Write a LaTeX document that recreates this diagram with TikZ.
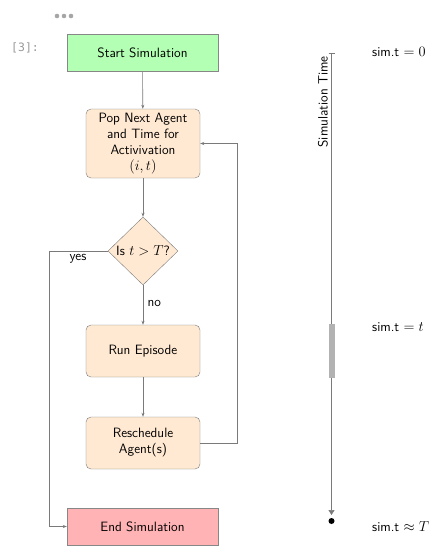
\documentclass[tikz,border=0pt]{standalone}
\usepackage{fontspec}
\newfontfamily\jmono{DejaVu Sans Mono}
\usetikzlibrary{shapes.geometric,arrows.meta}
\definecolor{lgreen}{HTML}{B3FFB3}
\definecolor{peach}{HTML}{FFE9D2}
\definecolor{lred}{HTML}{FFB3B5}
\definecolor{edge}{HTML}{7A7A7A}
\begin{document}
\begin{tikzpicture}[x=1pt,y=-1pt,
  every node/.style={font=\sffamily\fontsize{13.5}{16}\selectfont},
  termbox/.style={draw=edge!90, minimum width=151pt, minimum height=37pt, inner sep=2pt},
  procbox/.style={draw=edge, fill=peach, rounded corners=5pt, minimum width=114pt, minimum height=52pt, align=center, inner sep=2pt},
  decbox/.style={draw=edge, fill=peach, diamond, minimum width=70pt, minimum height=68pt, inner sep=0pt},
  conn/.style={draw=edge, line width=0.6pt, -{Stealth[length=4pt,width=3pt]}},
  line/.style={draw=edge, line width=0.6pt}]
\useasboundingbox (0,0) rectangle (442,557);
% notebook decorations
\foreach \xx in {57,64,71} \fill[black!35] (\xx,16) circle (2.3pt);
\node[font=\jmono\fontsize{11.5}{14}\selectfont, text=black!40, anchor=west, inner sep=0] (prompt) at (11,48) {[3]:};
% flowchart
\node[termbox, fill=lgreen] (start) at (142.5,53) {Start Simulation};
\node[procbox, minimum height=69pt] (pop) at (143,143.5) {Pop Next Agent\\and Time for\\Activivation\\$(i,t)$};
\node[decbox] (dec) at (143,251) {Is $t>T$?};
\node[procbox] (run) at (143,351) {Run Episode};
\node[procbox] (resch) at (143,443) {Reschedule\\Agent(s)};
\node[termbox, fill=lred] (end) at (142.5,526.5) {End Simulation};
\coordinate (yl) at (49,251);
\coordinate (rr) at (237,443);
\draw[conn] (start) -- (pop);
\draw[conn] (pop) -- (dec);
\draw[conn] (dec) -- node[right, pos=0.45, xshift=1pt] (nolab) {no} (run);
\draw[conn] (run) -- (resch);
\draw[conn] (dec.west) -- (yl) |- (end.west);
\node (yeslab) at (78,259) {yes};
\draw[conn] (resch.east) -- (rr) |- (pop.east);
% timeline
\coordinate (ttop) at (331.5,53);
\coordinate (tbot) at (331.5,515);
\draw[line, -{Triangle[length=5pt,width=6pt]}] (ttop) -- (tbot);
\draw[line] (328.5,53) -- (335,53);
\fill[black!30] (328.5,324) rectangle (334.5,378);
\fill (331.5,521) circle (3pt);
\node[rotate=90, anchor=east, inner sep=1pt] (tlab) at (323,55) {Simulation Time};
\node[anchor=west, inner sep=0] (l0) at (372,52) {sim.t $=0$};
\node[anchor=west, inner sep=0] (l1) at (372,327) {sim.t $=t$};
\node[anchor=west, inner sep=0] (l2) at (372,527) {sim.t $\approx T$};
\end{tikzpicture}
\end{document}
